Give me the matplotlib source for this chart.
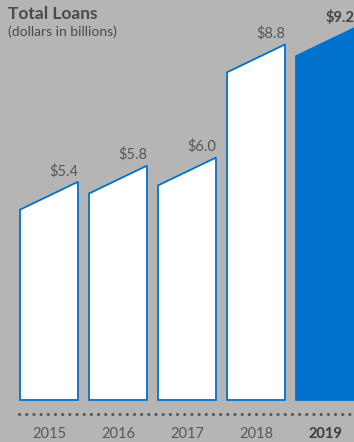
import matplotlib.pyplot as plt
from matplotlib.patches import Polygon

# loans by year, dollars in billions
years = ['2015', '2016', '2017', '2018', '2019']
loans = [5.4, 5.8, 6.0, 8.8, 9.2]
labels = ['$5.4', '$5.8', '$6.0', '$8.8', '$9.2']

bg = '#b4b5b4'
blue = '#0072ce'
grey_txt = '#575757'

plt.rcParams['font.family'] = ['Lato', 'DejaVu Sans']

fig = plt.figure(figsize=(3.54, 4.42), dpi=100, facecolor=bg)
ax = fig.add_axes([0, 0, 1, 1])
ax.set_facecolor(bg)
ax.axis('off')
ax.set_xlim(-0.71, 4.42)
ax.set_ylim(-1.04, 9.90)

half_w = 0.42
slant = 0.69

for i, v in enumerate(loans):
    last = i == len(loans) - 1
    pts = [(i - half_w, 0), (i + half_w, 0), (i + half_w, v), (i - half_w, v - slant)]
    poly = Polygon(pts, closed=True,
                   facecolor=blue if last else 'white',
                   edgecolor=blue, linewidth=1.3, joinstyle='miter')
    ax.add_patch(poly)
    ax.text(i + 0.22, v + 0.27, labels[i], ha='center', va='center',
            fontsize=10.5, color='#444444' if last else grey_txt,
            fontweight='bold' if last else 'normal')
    ax.text(i, -0.83, years[i], ha='center', va='center', fontsize=10.5,
            color='#3c3c3c' if last else grey_txt,
            fontweight='bold' if last else 'normal')

# dotted baseline under the bars
ax.plot([-0.44, 4.42], [-0.34, -0.34], color='#555555', linewidth=2.2,
        linestyle=(0, (0.05, 2.3)), dash_capstyle='round', solid_capstyle='round')

fig.text(8 / 354, 1 - 14 / 442, 'Total Loans', fontsize=12.5, fontweight='bold',
         color='#4a4a4a', ha='left', va='center')
fig.text(8 / 354, 1 - 32 / 442, '(dollars in billions)', fontsize=10,
         color='#4a4a4a', ha='left', va='center')

fig.savefig('out.png', dpi=100, facecolor=bg)
